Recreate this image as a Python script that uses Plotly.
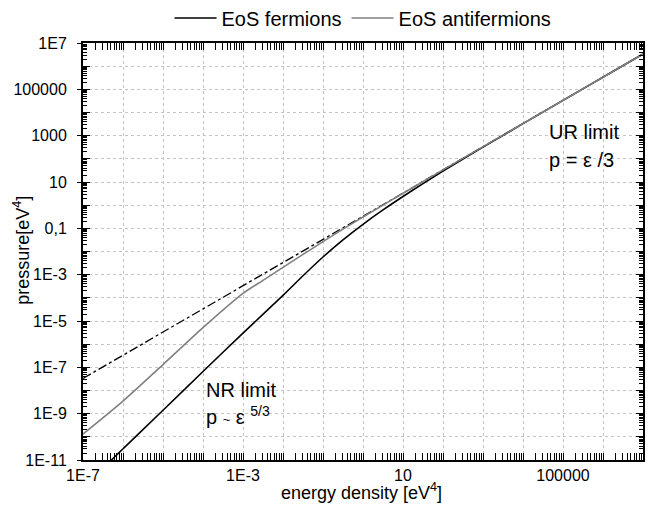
import plotly.graph_objects as go

# ---- data ----
fermion_eps = [1e-7, 5.13e-7, 1e-5, 1e-4, 1e-3, 1e-2, 3.16e-2, 1e-1, 3.16e-1, 1.0, 3.16, 10.0,
               31.6, 100.0, 316.0, 1e3, 1e5, 1e7]
fermion_p = [6.6e-13, 1e-11, 1.41e-9, 6.6e-8, 3.0e-6, 1.27e-4, 8.97e-4, 5.8e-3, 3.18e-2, 0.149, 0.621, 2.36,
             8.57, 29.7, 98.4, 322.0, 3.33e4, 3.33e6]

antifermion_eps = [1e-7, 1e-6, 1e-5, 1e-4, 1e-3, 3.16e-3, 1e-2, 3.16e-2, 1e-1, 3.16e-1, 1.0, 10.0,
                   100.0, 1e7]
antifermion_p = [1.32e-10, 3.5e-9, 1.32e-7, 5.2e-6, 1.56e-4, 5.66e-4, 2.06e-3, 7.46e-3, 2.65e-2, 9.18e-2,
                 0.308, 3.26, 33.3, 3.33e6]

ur_eps = [1e-7, 1e7]
ur_p = [3.33e-8, 3.33e6]

x_tick_vals = [1e-7, 1e-3, 10, 1e5]
x_tick_text = ["1E-7", "1E-3", "10", "100000"]
y_tick_vals = [1e-11, 1e-9, 1e-7, 1e-5, 1e-3, 1e-1, 10, 1e3, 1e5, 1e7]
y_tick_text = ["1E-11", "1E-9", "1E-7", "1E-5", "1E-3", "0,1", "10", "1000", "100000", "1E7"]

FONT = "Liberation Sans, Arial, sans-serif"

# decade positions and minor positions for axes
x_decades = [10.0 ** k for k in range(-7, 8)]
y_decades = [10.0 ** k for k in range(-11, 8)]
x_minor = [m * 10.0 ** k for k in range(-7, 7) for m in range(2, 10)]
y_minor = [m * 10.0 ** k for k in range(-11, 7) for m in range(2, 10)]


def labels_for(decades, vals, texts):
    out = []
    for d in decades:
        lab = ""
        for v, t in zip(vals, texts):
            if abs(v - d) / d < 1e-6:
                lab = t
        out.append(lab)
    return out


fig = go.Figure()
fig.add_trace(go.Scatter(x=ur_eps, y=ur_p, mode="lines", showlegend=False,
                         line=dict(color="black", width=1.3, dash="dashdot")))
fig.add_trace(go.Scatter(x=fermion_eps, y=fermion_p, mode="lines", name="EoS fermions",
                         line=dict(color="black", width=1.6, shape="spline", smoothing=0.6)))
fig.add_trace(go.Scatter(x=antifermion_eps, y=antifermion_p, mode="lines", name="EoS antifermions",
                         line=dict(color="#808080", width=1.6, shape="spline", smoothing=0.6)))
# invisible trace for the overlay y axis (outward ticks at labelled values)
fig.add_trace(go.Scatter(x=[1e-7], y=[1e-11], yaxis="y2", mode="markers",
                         marker=dict(opacity=0), showlegend=False, hoverinfo="skip"))

fig.update_layout(
    width=654, height=506,
    margin=dict(l=83, r=11, t=43, b=46, autoexpand=False),
    paper_bgcolor="white", plot_bgcolor="white",
    font=dict(family=FONT, size=16, color="black"),
    legend=dict(orientation="h", x=0.5, xanchor="center", xref="paper",
                y=1 - 18 / 506, yanchor="middle", yref="container",
                itemwidth=42, font=dict(size=20), bgcolor="rgba(0,0,0,0)"),
    xaxis=dict(type="log", range=[-7, 7], tickmode="array", tickvals=x_decades,
               ticktext=labels_for(x_decades, x_tick_vals, x_tick_text),
               ticks="inside", ticklen=7, tickwidth=1.3, tickcolor="black",
               showline=True, linewidth=2, linecolor="black", mirror="allticks",
               showgrid=True, gridcolor="#c4c4c4", griddash="dot", gridwidth=1,
               zeroline=False, tickfont=dict(size=16), automargin=False,
               minor=dict(tickmode="array", tickvals=x_minor, ticks="inside",
                          ticklen=4, tickwidth=1, tickcolor="black", showgrid=False)),
    yaxis=dict(type="log", range=[-11, 7], tickmode="array", tickvals=y_decades,
               ticktext=labels_for(y_decades, y_tick_vals, y_tick_text),
               ticks="inside", ticklen=7, tickwidth=1.3, tickcolor="black",
               showline=True, linewidth=2, linecolor="black", mirror="allticks",
               showgrid=True, gridcolor="#c4c4c4", griddash="dot", gridwidth=1,
               zeroline=False, tickfont=dict(size=16), ticklabelstandoff=11,
               automargin=False,
               minor=dict(tickmode="array", tickvals=y_minor, ticks="inside",
                          ticklen=4, tickwidth=1, tickcolor="black", showgrid=False)),
    yaxis2=dict(type="log", range=[-11, 7], overlaying="y", side="left",
                tickmode="array", tickvals=y_tick_vals, ticks="outside", ticklen=5,
                tickwidth=1.3, tickcolor="black", showticklabels=False,
                showgrid=False, showline=False, zeroline=False, automargin=False),
)

fig.add_annotation(text="UR limit", x=4.59, y=3.16, xref="x", yref="y",
                   xanchor="left", yanchor="middle", showarrow=False, font=dict(size=20))
fig.add_annotation(text="p = ε /3", x=4.59, y=1.95, xref="x", yref="y",
                   xanchor="left", yanchor="middle", showarrow=False, font=dict(size=20))
fig.add_annotation(text="NR limit", x=-3.98, y=-7.96, xref="x", yref="y",
                   xanchor="left", yanchor="middle", showarrow=False, font=dict(size=20))
fig.add_annotation(text="p <span style='font-size:13px'>~</span> ε <sup>5/3</sup>",
                   x=-3.98, y=-9.1, xref="x", yref="y",
                   xanchor="left", yanchor="middle", showarrow=False, font=dict(size=20))

fig.add_annotation(text="energy density [eV<sup>4</sup>]", x=0.498, y=-0.075,
                   xref="paper", yref="paper", xanchor="center", yanchor="middle",
                   showarrow=False, font=dict(size=18))
fig.add_annotation(text="pressure[eV<sup>4</sup>]", x=-0.109, y=0.504, textangle=-90,
                   xref="paper", yref="paper", xanchor="center", yanchor="middle",
                   showarrow=False, font=dict(size=18))

# remove the default 8px body margin so the figure fills the window exactly
fig.write_html("out.html", config={"displayModeBar": False},
               post_script="document.body.style.margin='0';")
